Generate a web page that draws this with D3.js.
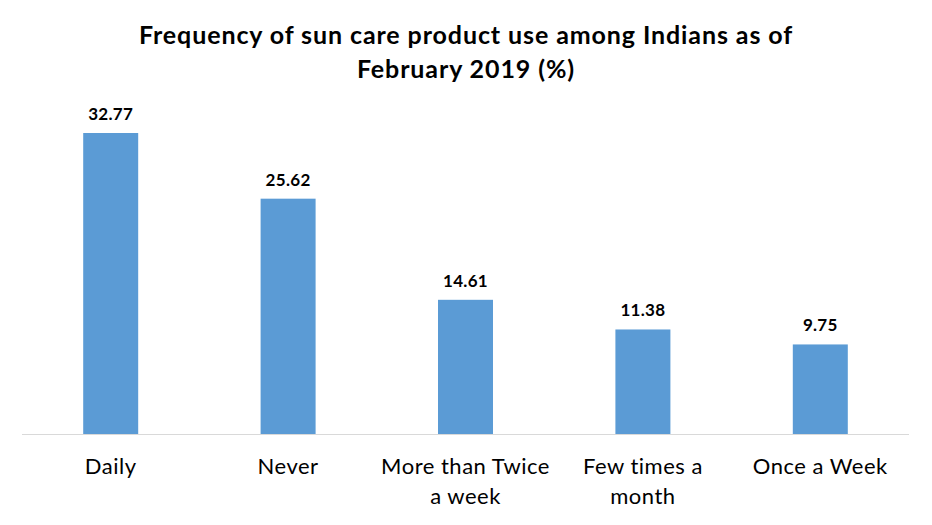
<!DOCTYPE html>
<html>
<head>
<meta charset="utf-8">
<script src="https://cdn.jsdelivr.net/npm/d3@7"></script>
<style>
  body { margin: 0; background: #fff; }
  svg { display: block; font-family: Lato, "Open Sans", sans-serif; }
</style>
</head>
<body>
<svg id="chart" width="932" height="525"></svg>
<script>
// chart data
const categories = ['Daily', 'Never', 'More than Twice a week', 'Few times a month', 'Once a Week'];
const shares = [32.77, 25.62, 14.61, 11.38, 9.75];
const axisLines = [['Daily'], ['Never'], ['More than Twice', 'a week'], ['Few times a', 'month'], ['Once a Week']];
const titleLines = ['Frequency of sun care product use among Indians as of', 'February 2019 (%)'];

const width = 932;
const height = 525;
const svg = d3.select('#chart');

const x = d3.scaleBand()
  .domain(categories)
  .range([22, 909])
  .paddingInner(0.69)
  .paddingOuter(0.345);

const y = d3.scaleLinear()
  .domain([0, 35])
  .range([434, 434 - 35 * 9.185]);

// title
svg.append('g')
  .selectAll('text')
  .data(titleLines)
  .enter()
  .append('text')
  .attr('x', width / 2)
  .attr('y', (d, i) => 44 + i * 34)
  .attr('text-anchor', 'middle')
  .attr('font-size', 25)
  .attr('font-weight', 'bold')
  .attr('letter-spacing', 0.9)
  .attr('fill', '#000')
  .text(d => d);

// bars
svg.append('g')
  .selectAll('rect')
  .data(shares)
  .enter()
  .append('rect')
  .attr('x', (d, i) => x(categories[i]))
  .attr('y', d => y(d))
  .attr('width', x.bandwidth())
  .attr('height', d => y(0) - y(d))
  .attr('fill', '#5b9bd5');

// value labels
svg.append('g')
  .selectAll('text')
  .data(shares)
  .enter()
  .append('text')
  .attr('x', (d, i) => x(categories[i]) + x.bandwidth() / 2)
  .attr('y', d => y(d) - 13)
  .attr('text-anchor', 'middle')
  .attr('font-size', 17)
  .attr('font-weight', 'bold')
  .attr('letter-spacing', 0.3)
  .attr('fill', '#000')
  .text(d => d.toFixed(2));

// baseline
svg.append('line')
  .attr('x1', x.range()[0])
  .attr('x2', x.range()[1])
  .attr('y1', y(0) + 0.5)
  .attr('y2', y(0) + 0.5)
  .attr('stroke', '#d9d9d9')
  .attr('stroke-width', 1);

// category labels
const cats = svg.append('g')
  .selectAll('text')
  .data(categories)
  .enter()
  .append('text')
  .attr('text-anchor', 'middle')
  .attr('font-size', 22)
  .attr('letter-spacing', 0.5)
  .attr('fill', '#000');

cats.selectAll('tspan')
  .data((d, i) => axisLines[i].map(t => ({ t, c: d })))
  .enter()
  .append('tspan')
  .attr('x', d => x(d.c) + x.bandwidth() / 2)
  .attr('y', (d, j) => 474 + j * 30)
  .text(d => d.t);
</script>
</body>
</html>
